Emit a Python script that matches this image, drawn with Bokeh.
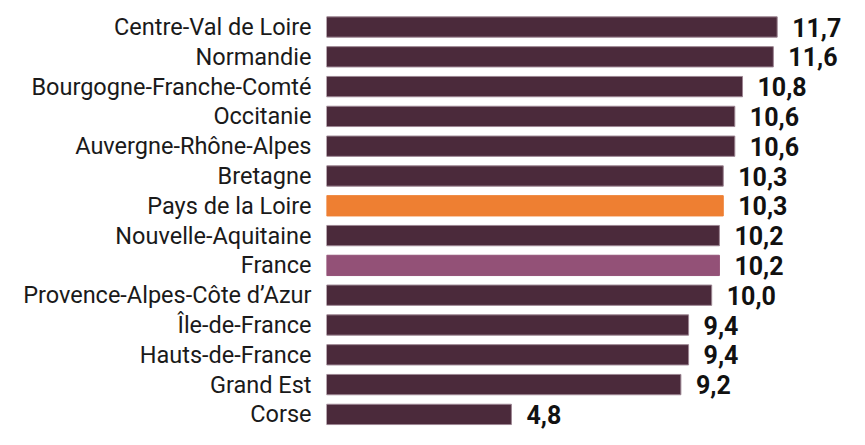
from bokeh.plotting import figure
from bokeh.models import Range1d, FixedTicker, ColumnDataSource
from bokeh.core.properties import value
from bokeh.embed import file_html
from bokeh.resources import INLINE

regions = [
    "Centre-Val de Loire",
    "Normandie",
    "Bourgogne-Franche-Comté",
    "Occitanie",
    "Auvergne-Rhône-Alpes",
    "Bretagne",
    "Pays de la Loire",
    "Nouvelle-Aquitaine",
    "France",
    "Provence-Alpes-Côte d’Azur",
    "Île-de-France",
    "Hauts-de-France",
    "Grand Est",
    "Corse",
]
values = [11.7, 11.6, 10.8, 10.6, 10.6, 10.3, 10.3, 10.2, 10.2, 10.0, 9.4, 9.4, 9.2, 4.8]

base_color = "#4B2A3B"
base_line = "#9C8592"
highlight_fill = {"Pays de la Loire": "#EE7F32", "France": "#935177"}

W, H = 849, 429
left = 326
px_per_unit = 38.52
pitch = 29.8
first_center = 26.5

n = len(regions)
ys = list(range(n))
fills = [highlight_fill.get(r, base_color) for r in regions]
lines = [highlight_fill.get(r, base_line) for r in regions]
labels = [f"{v:.1f}".replace(".", ",") for v in values]

src = ColumnDataSource(dict(y=ys, v=values, fill=fills, line=lines, label=labels))

x_end = (W - left) / px_per_unit
y_top = -first_center / pitch
y_bottom = (H - first_center) / pitch

p = figure(width=W, height=H, output_backend="svg", toolbar_location=None,
           x_range=Range1d(0, x_end), y_range=Range1d(y_bottom, y_top),
           x_axis_location=None,
           min_border_left=left, min_border_right=0, min_border_top=0, min_border_bottom=0)
p.outline_line_color = None
p.xgrid.visible = False
p.ygrid.visible = False
p.background_fill_color = "white"
p.border_fill_color = "white"

p.hbar(y="y", left=0, right="v", height=20.3 / pitch, fill_color="fill",
       line_color="line", line_width=1, source=src)

p.text(x="v", y="y", text="label", x_offset=15, y_offset=0,
       text_font=value("Roboto"), text_font_style="bold", text_font_size="25px",
       text_baseline="middle", text_align="left", text_color="#111111", source=src)

ya = p.yaxis[0]
ya.ticker = FixedTicker(ticks=ys)
ya.major_label_overrides = {i: r for i, r in enumerate(regions)}
ya.axis_line_color = None
ya.major_tick_line_color = None
ya.minor_tick_line_color = None
ya.major_tick_in = 0
ya.major_tick_out = 0
ya.major_label_standoff = 15
ya.major_label_text_font = "Roboto"
ya.major_label_text_font_size = "23.5px"
ya.major_label_text_color = "#1a1a1a"

open("out.html", "w").write(file_html(p, INLINE))
